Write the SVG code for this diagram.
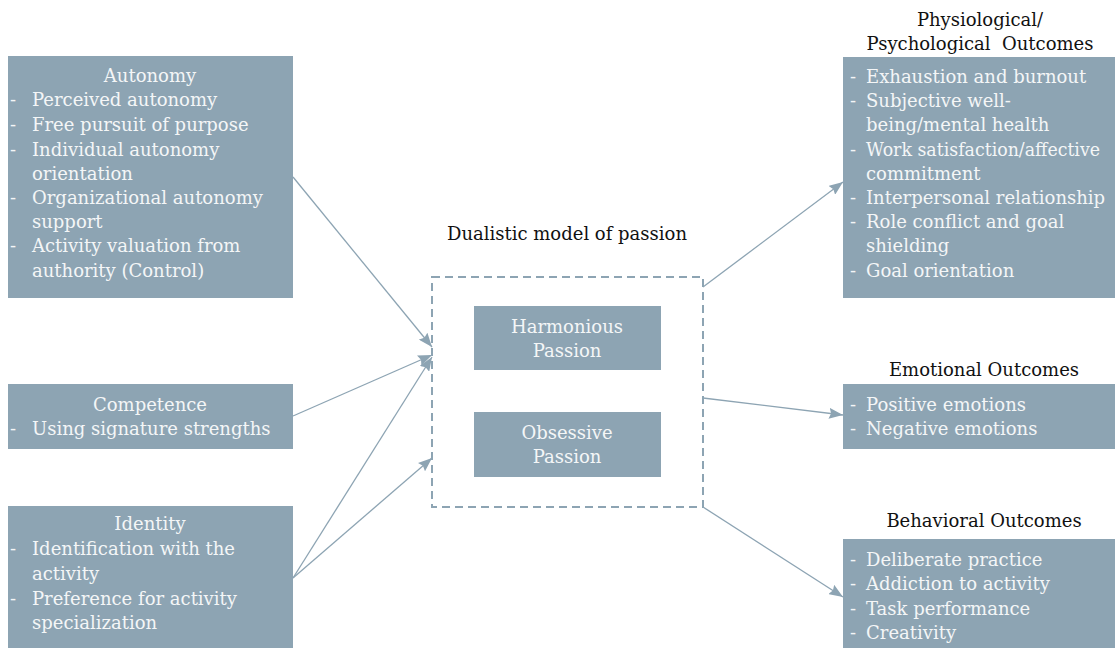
<svg xmlns="http://www.w3.org/2000/svg" width="1115" height="648" viewBox="0 0 1115 648">
<defs>
<style>
.box{fill:#8da4b3;}
.t{font-family:"DejaVu Serif","Liberation Serif",serif;font-size:18px;fill:#f4f6f7;}
.c{text-anchor:middle;}
.h{font-family:"DejaVu Serif","Liberation Serif",serif;font-size:18px;fill:#111;text-anchor:middle;}
.ln{stroke:#8da4b3;stroke-width:1.3;fill:none;}
</style>
<marker id="ah" viewBox="0 0 14 11" refX="14" refY="5.5" markerWidth="14" markerHeight="11" markerUnits="userSpaceOnUse" orient="auto">
<path d="M0,0 L14,5.5 L0,11 L2,5.5 Z" fill="#8da4b3"/>
</marker>
</defs>
<rect width="1115" height="648" fill="#fff"/>

<g id="autonomy">
<rect class="box" x="8" y="56" width="285" height="242"/>
<text class="t c" x="150" y="82">Autonomy</text>
<text class="t" y="106"><tspan x="10">-</tspan><tspan x="32">Perceived autonomy</tspan></text>
<text class="t" y="131"><tspan x="10">-</tspan><tspan x="32">Free pursuit of purpose</tspan></text>
<text class="t" y="156"><tspan x="10">-</tspan><tspan x="32">Individual autonomy</tspan></text>
<text class="t" x="32" y="180">orientation</text>
<text class="t" y="204"><tspan x="10">-</tspan><tspan x="32">Organizational autonomy</tspan></text>
<text class="t" x="32" y="228">support</text>
<text class="t" y="252"><tspan x="10">-</tspan><tspan x="32">Activity valuation from</tspan></text>
<text class="t" x="32" y="277">authority (Control)</text>
</g>

<g id="competence">
<rect class="box" x="8" y="384" width="285" height="65"/>
<text class="t c" x="150" y="411">Competence</text>
<text class="t" y="435"><tspan x="10">-</tspan><tspan x="32">Using signature strengths</tspan></text>
</g>

<g id="identity">
<rect class="box" x="8" y="506" width="285" height="142"/>
<text class="t c" x="150" y="530">Identity</text>
<text class="t" y="555"><tspan x="10">-</tspan><tspan x="32">Identification with the</tspan></text>
<text class="t" x="32" y="580">activity</text>
<text class="t" y="605"><tspan x="10">-</tspan><tspan x="32">Preference for activity</tspan></text>
<text class="t" x="32" y="629">specialization</text>
</g>

<g id="dualistic">
<text class="h" x="567" y="240">Dualistic model of passion</text>
<rect x="432" y="277" width="271" height="230" fill="none" stroke="#8da4b3" stroke-width="2" stroke-dasharray="8 5"/>
</g>

<g id="harmonious">
<rect class="box" x="474" y="306" width="187" height="64"/>
<text class="t c" x="567" y="333">Harmonious</text>
<text class="t c" x="567" y="357">Passion</text>
</g>

<g id="obsessive">
<rect class="box" x="474" y="412" width="187" height="65"/>
<text class="t c" x="567" y="439">Obsessive</text>
<text class="t c" x="567" y="463">Passion</text>
</g>

<g id="physio">
<text class="h" x="980" y="26">Physiological/</text>
<text class="h" x="980" y="50">Psychological&#160; Outcomes</text>
<rect class="box" x="843" y="57" width="272" height="241"/>
<text class="t" y="83"><tspan x="850">-</tspan><tspan x="866">Exhaustion and burnout</tspan></text>
<text class="t" y="107"><tspan x="850">-</tspan><tspan x="866">Subjective well-</tspan></text>
<text class="t" x="866" y="131">being/mental health</text>
<text class="t" y="156"><tspan x="850">-</tspan><tspan x="866" textLength="234" lengthAdjust="spacingAndGlyphs">Work satisfaction/affective</tspan></text>
<text class="t" x="866" y="180">commitment</text>
<text class="t" y="204"><tspan x="850">-</tspan><tspan x="866">Interpersonal relationship</tspan></text>
<text class="t" y="228"><tspan x="850">-</tspan><tspan x="866">Role conflict and goal</tspan></text>
<text class="t" x="866" y="252">shielding</text>
<text class="t" y="277"><tspan x="850">-</tspan><tspan x="866">Goal orientation</tspan></text>
</g>

<g id="emotional">
<text class="h" x="984" y="376">Emotional Outcomes</text>
<rect class="box" x="843" y="384" width="272" height="65"/>
<text class="t" y="411"><tspan x="850">-</tspan><tspan x="866">Positive emotions</tspan></text>
<text class="t" y="435"><tspan x="850">-</tspan><tspan x="866">Negative emotions</tspan></text>
</g>

<g id="behavioral">
<text class="h" x="984" y="527">Behavioral Outcomes</text>
<rect class="box" x="843" y="539" width="272" height="109"/>
<text class="t" y="566"><tspan x="850">-</tspan><tspan x="866">Deliberate practice</tspan></text>
<text class="t" y="590"><tspan x="850">-</tspan><tspan x="866">Addiction to activity</tspan></text>
<text class="t" y="615"><tspan x="850">-</tspan><tspan x="866">Task performance</tspan></text>
<text class="t" y="639"><tspan x="850">-</tspan><tspan x="866">Creativity</tspan></text>
</g>

<g id="connectors">
<line class="ln" x1="293" y1="177" x2="432" y2="347" marker-end="url(#ah)"/>
<line class="ln" x1="293" y1="416" x2="432" y2="355" marker-end="url(#ah)"/>
<line class="ln" x1="293" y1="578" x2="432" y2="357" marker-end="url(#ah)"/>
<line class="ln" x1="293" y1="578" x2="432" y2="458" marker-end="url(#ah)"/>
<line class="ln" x1="703" y1="287" x2="843" y2="182" marker-end="url(#ah)"/>
<line class="ln" x1="703" y1="398" x2="843" y2="415" marker-end="url(#ah)"/>
<line class="ln" x1="703" y1="507" x2="843" y2="597" marker-end="url(#ah)"/>
</g>
</svg>
